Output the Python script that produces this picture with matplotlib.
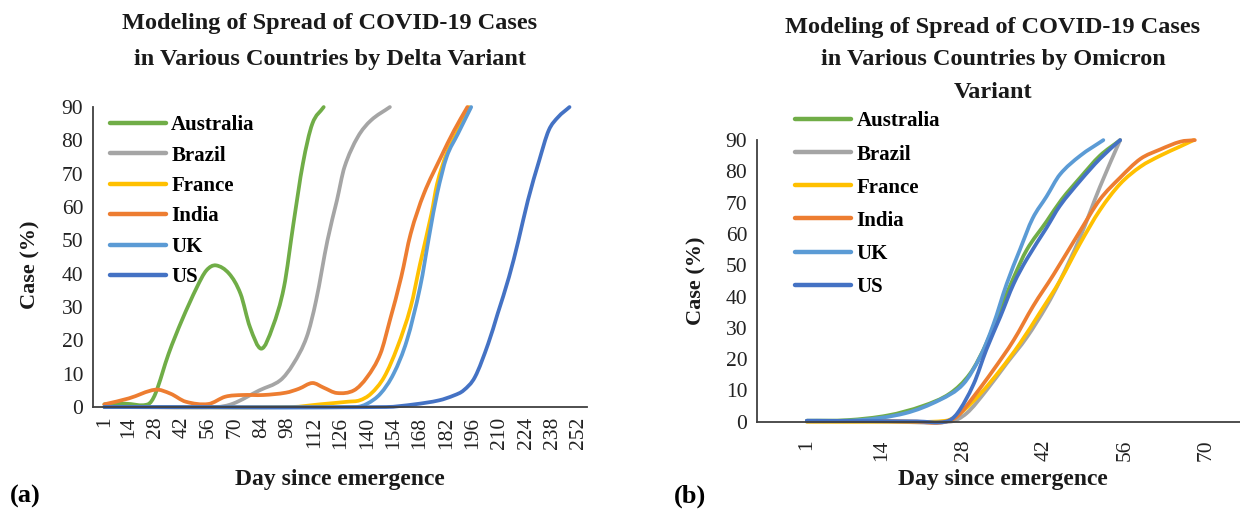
import numpy as np
import matplotlib
matplotlib.use('Agg')
import matplotlib.pyplot as plt
from matplotlib.path import Path
from matplotlib.patches import PathPatch
from matplotlib.lines import Line2D

plt.rcParams['font.family'] = ['Liberation Serif', 'DejaVu Serif']

COUNTRIES = ['Australia', 'Brazil', 'France', 'India', 'UK', 'US']
COLORS = ['#70AD47', '#A5A5A5', '#FFC000', '#ED7D31', '#5B9BD5', '#4472C4']

# Delta variant: day since emergence -> case (%)
AUS_D_DAYS = [1, 12, 24, 28, 35, 42, 50, 55, 60, 67, 73, 78, 84, 90, 96, 101, 106, 111, 117]
AUS_D = [0.8, 1.0, 0.8, 4, 16, 26, 36, 41, 42.5, 40, 34, 24, 17.5, 24, 36, 55, 73, 85, 90]
BRA_D_DAYS = [1, 60, 69, 83, 94, 101, 108, 113, 119, 124, 128, 135, 142, 152]
BRA_D = [0, 0, 1, 5, 8, 13, 21, 32, 50, 62, 72, 81, 86, 90]
FRA_D_DAYS = [1, 100, 115, 130, 136, 142, 149, 156, 163, 168, 174, 177, 182, 188, 194]
FRA_D = [0, 0, 0.8, 1.6, 2, 4, 9, 18, 30, 43, 58, 67, 76, 83, 90]
IND_D_DAYS = [1, 14, 28, 36, 44, 56, 65, 74, 85, 97, 104, 111, 117, 124, 133, 140, 147,
              152, 158, 163, 170, 179, 186, 193]
IND_D = [0.8, 2.6, 5.2, 4.0, 1.6, 0.9, 3.1, 3.6, 3.6, 4.3, 5.5, 7.2, 5.8, 4.2, 5.0, 9,
         16, 26, 39, 52, 64, 75, 83, 90]
UK_D_DAYS = [1, 134, 140, 147, 154, 161, 168, 173, 177, 182, 188, 195]
UK_D = [0, 0, 1, 4, 10, 20, 36, 52, 64, 75, 82, 90]
US_D_DAYS = [1, 150, 165, 178, 186, 191, 197, 204, 209, 215, 220, 225, 231, 236, 241, 247]
US_D = [0, 0, 0.8, 2, 3.5, 5, 9, 19, 28, 39, 50, 62, 74, 83, 87, 90]

# Omicron variant
AUS_O_DAYS = [1, 8, 15, 21, 25.7, 29.2, 32, 34.4, 36.7, 39, 42.4, 45, 48.2, 51.6, 55.1]
AUS_O = [0.3, 0.5, 2, 5, 9, 15.4, 25, 36, 46, 55, 64, 71, 78, 85, 90]
BRA_O_DAYS = [1, 15, 25.7, 28.6, 32, 35.5, 39, 42.4, 44.7, 48.2, 51.6, 55.1]
BRA_O = [0, 0, 0, 2.7, 10, 18.6, 27, 37, 45, 59, 75, 90]
FRA_O_DAYS = [1, 15, 25, 27.5, 31, 34.4, 37.8, 41.3, 44.7, 48.2, 51.6, 55.1, 58.6, 62, 65.5, 67.8]
FRA_O = [0, 0, 0.3, 2.7, 9, 16.5, 25, 35, 45, 57, 67.6, 76, 81.5, 85, 88, 90]
IND_O_DAYS = [1, 10, 20, 24, 26.9, 29.8, 33.2, 36.7, 40.1, 43.6, 48.2, 51.6, 55.1, 58.6,
              62, 65.5, 68]
IND_O = [0.2, 0.2, 0, -0.3, 1.6, 8, 16.5, 26, 37, 47, 61, 71, 78, 84, 87, 89.5, 90]
UK_O_DAYS = [1, 10, 18, 24, 28, 31, 33.2, 35.5, 37.8, 40, 42.4, 44.7, 48.2, 52.2]
UK_O = [0.3, 0.5, 2.7, 7, 12, 21, 31, 44, 55, 65, 72, 79, 85, 90]
US_O_DAYS = [1, 10, 20, 25, 27, 29.8, 32, 34.4, 36.7, 39, 42.4, 44.7, 48.2, 51.6, 55.1]
US_O = [0.3, 0.2, 0.1, 0, 2.7, 12, 23, 33.5, 44, 52, 62, 69, 77, 84, 90]

DELTA = [(AUS_D_DAYS, AUS_D), (BRA_D_DAYS, BRA_D), (FRA_D_DAYS, FRA_D),
         (IND_D_DAYS, IND_D), (UK_D_DAYS, UK_D), (US_D_DAYS, US_D)]
OMICRON = [(AUS_O_DAYS, AUS_O), (BRA_O_DAYS, BRA_O), (FRA_O_DAYS, FRA_O),
           (IND_O_DAYS, IND_O), (UK_O_DAYS, UK_O), (US_O_DAYS, US_O)]

DELTA_TICKS = [1] + list(range(14, 253, 14))
OMICRON_TICKS = [1, 14, 28, 42, 56, 70]


def smooth_path(xs, ys):
    """Cubic Hermite curve through the points, drawn as bezier segments."""
    x = np.asarray(xs, float)
    y = np.asarray(ys, float)
    n = len(x)
    m = np.zeros(n)
    for i in range(n):
        a = max(i - 1, 0)
        b = min(i + 1, n - 1)
        m[i] = (y[b] - y[a]) / (x[b] - x[a])
    verts = [(x[0], y[0])]
    codes = [Path.MOVETO]
    for i in range(n - 1):
        h = x[i + 1] - x[i]
        verts += [(x[i] + h / 3, y[i] + m[i] * h / 3),
                  (x[i + 1] - h / 3, y[i + 1] - m[i + 1] * h / 3),
                  (x[i + 1], y[i + 1])]
        codes += [Path.CURVE4] * 3
    return Path(verts, codes)


def draw_panel(ax, series, ticks, xlim, tick_pad):
    for (days, vals), color in zip(series, COLORS):
        patch = PathPatch(smooth_path(days, vals), fill=False, edgecolor=color,
                          lw=2.7, capstyle='round', joinstyle='round', clip_on=False)
        ax.add_patch(patch)
    ax.set_xlim(*xlim)
    ax.set_ylim(0, 90)
    ax.set_yticks(range(0, 91, 10))
    ax.set_xticks(ticks)
    ax.set_xticklabels([str(t) for t in ticks], rotation=90)
    ax.tick_params(axis='both', length=0, labelsize=15.5, colors='#222222')
    ax.tick_params(axis='y', pad=7)
    ax.tick_params(axis='x', pad=tick_pad)
    for side in ['top', 'right']:
        ax.spines[side].set_visible(False)
    for side in ['left', 'bottom']:
        ax.spines[side].set_color('#404040')
        ax.spines[side].set_linewidth(1.3)


fig = plt.figure(figsize=(12.4, 5.11), dpi=100)
ax1 = fig.add_axes([0.075, 0.2035, 0.398, 0.587])
ax2 = fig.add_axes([0.6105, 0.1748, 0.3895, 0.551])

draw_panel(ax1, DELTA, DELTA_TICKS, (-5, 256), 7)
draw_panel(ax2, OMICRON, OMICRON_TICKS, (-7.6, 75.8), 13)

handles = [Line2D([], [], color=c, lw=3.2, solid_capstyle='round') for c in COLORS]
leg_font = {'family': 'Liberation Serif', 'weight': 'bold', 'size': 15}
ax1.legend(handles, COUNTRIES, loc='upper left', bbox_to_anchor=(0.034, 0.973),
           frameon=False, prop=leg_font, handlelength=2.7, handletextpad=0.25,
           labelspacing=0.5, borderpad=0, borderaxespad=0)
ax2.legend(handles, COUNTRIES, loc='upper left', bbox_to_anchor=(0.079, 1.102),
           frameon=False, prop=leg_font, handlelength=2.7, handletextpad=0.25,
           labelspacing=0.63, borderpad=0, borderaxespad=0)

title_kw = dict(ha='center', va='center', fontsize=17.5, fontweight='bold', color='#1a1a1a')
fig.text(330 / 1240, 1 - 41.5 / 511,
         'Modeling of Spread of COVID-19 Cases\nin Various Countries by Delta Variant',
         linespacing=1.88, **title_kw)
fig.text(993 / 1240, 1 - 60 / 511,
         'Modeling of Spread of COVID-19 Cases\nin Various Countries by Omicron\nVariant',
         linespacing=1.72, **title_kw)

label_kw = dict(ha='center', va='center', fontweight='bold', color='#1a1a1a')
fig.text(30 / 1240, 1 - 265 / 511, 'Case (%)', rotation=90, fontsize=16, **label_kw)
fig.text(696 / 1240, 1 - 281 / 511, 'Case (%)', rotation=90, fontsize=16, **label_kw)
fig.text(340 / 1240, 1 - 479 / 511, 'Day since emergence', fontsize=17, **label_kw)
fig.text(1003 / 1240, 1 - 480 / 511, 'Day since emergence', fontsize=17, **label_kw)

fig.text(25 / 1240, 1 - 496 / 511, '(a)', ha='center', va='center',
         fontsize=19, fontweight='bold')
fig.text(690 / 1240, 1 - 496 / 511, '(b)', ha='center', va='center',
         fontsize=19, fontweight='bold')

fig.savefig('out.png', dpi=100, facecolor='white')
